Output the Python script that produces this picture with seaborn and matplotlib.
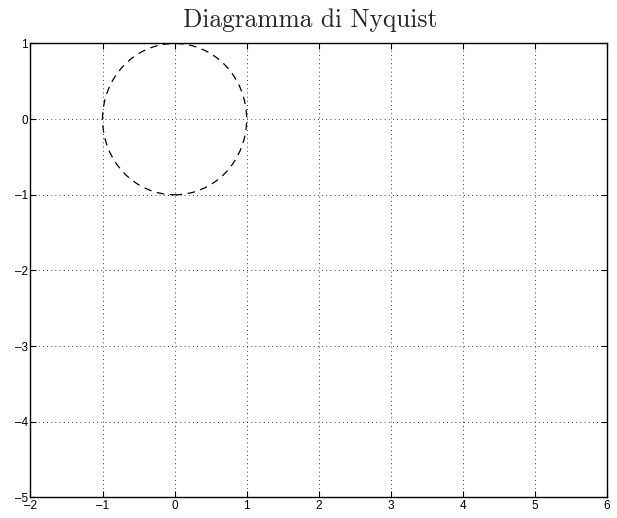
import matplotlib
matplotlib.use("Agg")
import matplotlib.pyplot as plt
from matplotlib.patches import Ellipse
import seaborn as sns

# Data
title = "Diagramma di Nyquist"
x_ticks = [-2, -1, 0, 1, 2, 3, 4, 5, 6]
x_tick_labels = ["\u20132", "\u20131", "0", "1", "2", "3", "4", "5", "6"]
y_ticks = [-5, -4, -3, -2, -1, 0, 1]
y_tick_labels = ["\u20135", "\u20134", "\u20133", "\u20132", "\u20131", "0", "1"]
x_limits = [-2, 6]
y_limits = [-5, 1]
circle_center = (0.0, 0.0)
circle_radius = 1.0

sns.set_theme(style="white")
plt.rcParams["font.family"] = ["Liberation Sans", "DejaVu Sans"]

fig = plt.figure(figsize=(6.17, 5.18), dpi=100)
ax = fig.add_axes([0.0494, 0.0396, 0.9344, 0.8765])

circ = Ellipse(circle_center, 2 * circle_radius, 2 * circle_radius,
               fill=False, edgecolor="black", linewidth=0.9,
               linestyle=(0, (6, 4.5)))
ax.add_patch(circ)

ax.set_xlim(x_limits)
ax.set_ylim(y_limits)
ax.set_xticks(x_ticks)
ax.set_xticklabels(x_tick_labels)
ax.set_yticks(y_ticks)
ax.set_yticklabels(y_tick_labels)

ax.grid(True, color="black", linestyle=(0, (1, 4)), linewidth=0.6)
ax.tick_params(direction="in", length=4, width=0.8, colors="black",
               labelsize=8.5, top=True, right=True, bottom=True, left=True,
               pad=2)
ax.tick_params(axis="x", pad=1.5)
for s in ax.spines.values():
    s.set_color("black")
    s.set_linewidth(1.0)

fig.suptitle(title, fontsize=18.3, family="cmr10", x=0.502, y=0.948,
             va="baseline", ha="center")

fig.savefig("out.png", dpi=100)
